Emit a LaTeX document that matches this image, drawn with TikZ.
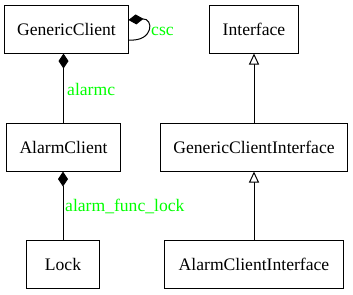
\documentclass[tikz,border=0pt]{standalone}
\usepackage{fontspec}
\setmainfont{Liberation Serif}
\usetikzlibrary{arrows.meta,calc}
\definecolor{lblgreen}{RGB}{0,255,0}
\begin{document}
\begin{tikzpicture}[x=1bp,y=-1bp,
  cls/.style={draw, line width=1bp, minimum height=48bp, inner sep=0pt,
    font=\fontsize{17.6bp}{20bp}\selectfont},
  lbl/.style={text=lblgreen, inner sep=0pt, anchor=west,
    font=\fontsize{17.6bp}{20bp}\selectfont},
  comp/.style={line width=1bp, -{Diamond[fill=black,length=15bp,width=10bp]}},
  inh/.style={line width=1bp, -{Triangle[open,fill=white,length=11bp,width=10bp]}}]
\useasboundingbox (0,0) rectangle (353,295);
% classes
\node[cls, minimum width=123bp] (gc)  at (66.5,29)  {GenericClient};
\node[cls, minimum width=88bp]  (itf) at (254,29)   {Interface};
\node[cls, minimum width=113bp] (ac)  at (63.5,147) {AlarmClient};
\node[cls, minimum width=186bp] (gci) at (254,147)  {GenericClientInterface};
\node[cls, minimum width=72bp]  (lk)  at (63,264)   {Lock};
\node[cls, minimum width=178bp] (aci) at (254,264)  {AlarmClientInterface};
% composition
\draw[comp] (ac.north) -- (ac.north |- gc.south);
\draw[comp] (lk.north) -- (lk.north |- ac.south);
\draw[comp] ($(gc.east)+(0,11)$) .. controls (154,42) and (154,18) .. ($(gc.east)+(0,-9)$);
% generalization
\draw[inh] (gci.north) -- (itf.south);
\draw[inh] (aci.north) -- (gci.south);
% role labels
\node[lbl] (lalarmc) at (67,89)  {alarmc};
\node[lbl] (lfunc)   at (65,206) {alarm\_func\_lock};
\node[lbl] (lcsc)    at (151,31) {csc};
\end{tikzpicture}
\end{document}
